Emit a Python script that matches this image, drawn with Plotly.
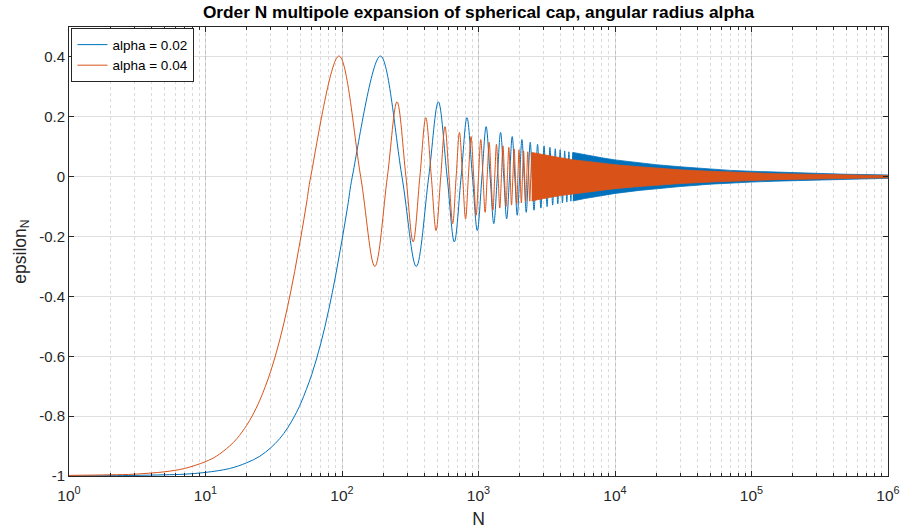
import plotly.graph_objects as go

# ---------------- data ----------------
# alpha = 0.02 : smooth rise, zero crossings, oscillation extrema
blue_rise_N = [1, 2, 3, 5, 7, 10, 15, 20, 25, 30, 35, 40, 45, 50, 60, 70, 80, 90, 100, 110]
blue_rise_eps = [-1.000, -0.999, -0.998, -0.996, -0.994, -0.988, -0.975, -0.956, -0.934, -0.906,
                 -0.875, -0.839, -0.799, -0.756, -0.661, -0.556, -0.444, -0.328, -0.212, -0.099]
blue_zero_N = [119, 275, 432, 589, 746, 903, 1060, 1217, 1374, 1531, 1688, 1845, 2002, 2159, 2316,
               2473, 2630, 2787, 2944, 3101, 3259, 3416, 3573, 3730, 3887, 4044, 4201, 4358, 4515,
               4672, 4829]
blue_ext_N = [191, 350, 508, 665, 823, 980, 1137, 1294, 1451, 1608, 1766, 1923, 2080, 2237, 2394,
              2551, 2708, 2865, 3022, 3180, 3337, 3494, 3651, 3808, 3965, 4122, 4279, 4436, 4593,
              4750, 4908]
blue_ext_eps = [0.403, -0.300, 0.250, -0.218, 0.197, -0.180, 0.167, -0.157, 0.148, -0.141, 0.134,
                -0.129, 0.124, -0.119, 0.115, -0.112, 0.108, -0.105, 0.103, -0.100, 0.098, -0.095,
                0.093, -0.091, 0.090, -0.088, 0.086, -0.085, 0.083, -0.082, 0.081]
# dense oscillation band (envelope half-width) for alpha = 0.02
blue_env_N = [4908, 6000, 8000, 10000, 15000, 20000, 30000, 50000, 70000, 100000, 150000,
              200000, 300000, 500000, 700000, 1000000]
blue_env_amp = [0.081, 0.073, 0.063, 0.056, 0.046, 0.040, 0.033, 0.025, 0.021, 0.018, 0.015,
                0.013, 0.010, 0.008, 0.007, 0.0056]

# alpha = 0.04
orange_rise_N = [1, 2, 3, 4, 5, 7, 10, 12, 15, 17, 20, 22, 25, 30, 35, 40, 45, 50, 55]
orange_rise_eps = [-0.998, -0.996, -0.994, -0.990, -0.986, -0.975, -0.952, -0.934, -0.900, -0.875,
                   -0.831, -0.799, -0.747, -0.651, -0.545, -0.433, -0.317, -0.201, -0.088]
orange_zero_N = [59, 137, 215, 294, 372, 451, 529, 608, 686, 765, 843, 922, 1000, 1079, 1158,
                 1236, 1315, 1393, 1472, 1550, 1629, 1707, 1786, 1864, 1943, 2021, 2100, 2179,
                 2257, 2336, 2414]
orange_ext_N = [95, 174, 253, 332, 411, 489, 568, 647, 725, 804, 882, 961, 1039, 1118, 1197,
                1275, 1354, 1432, 1511, 1589, 1668, 1746, 1825, 1904, 1982, 2061, 2139, 2218,
                2296, 2375, 2453]
orange_ext_eps = [0.403, -0.300, 0.250, -0.218, 0.197, -0.180, 0.167, -0.157, 0.148, -0.141, 0.134,
                  -0.129, 0.124, -0.119, 0.115, -0.112, 0.108, -0.105, 0.103, -0.100, 0.098, -0.095,
                  0.093, -0.091, 0.090, -0.088, 0.086, -0.085, 0.083, -0.082, 0.081]
orange_env_N = [2453, 3000, 4000, 5000, 7000, 10000, 15000, 20000, 30000, 50000, 70000, 100000,
                150000, 200000, 300000, 500000, 700000, 1000000]
orange_env_amp = [0.081, 0.073, 0.063, 0.056, 0.048, 0.040, 0.033, 0.028, 0.023, 0.018, 0.015,
                  0.013, 0.010, 0.009, 0.007, 0.0056, 0.0048, 0.0040]

series_names = ["alpha = 0.02", "alpha = 0.04"]
series_colors = ["#0072BD", "#D95319"]

x_tickvals = [1, 10, 100, 1000, 10000, 100000, 1000000]
x_ticktext = ["10<sup>0</sup>", "10<sup>1</sup>", "10<sup>2</sup>", "10<sup>3</sup>",
              "10<sup>4</sup>", "10<sup>5</sup>", "10<sup>6</sup>"]
y_tickvals = [-1, -0.8, -0.6, -0.4, -0.2, 0, 0.2, 0.4]
y_ticktext = ["-1", "-0.8", "-0.6", "-0.4", "-0.2", "0", "0.2", "0.4"]


def build_curve(rise_N, rise_eps, zero_N, ext_N, ext_eps):
    pts = list(zip(rise_N, rise_eps)) + [(n, 0.0) for n in zero_N] + list(zip(ext_N, ext_eps))
    pts.sort(key=lambda p: p[0])
    return [p[0] for p in pts], [p[1] for p in pts]


def build_band(env_N, env_amp):
    xs = list(env_N) + list(reversed(env_N))
    ys = list(env_amp) + [-a for a in reversed(env_amp)]
    return xs, ys


fig = go.Figure()
datasets = [
    (blue_rise_N, blue_rise_eps, blue_zero_N, blue_ext_N, blue_ext_eps, blue_env_N, blue_env_amp),
    (orange_rise_N, orange_rise_eps, orange_zero_N, orange_ext_N, orange_ext_eps, orange_env_N, orange_env_amp),
]
for (rN, rE, zN, eN, eE, envN, envA), name, col in zip(datasets, series_names, series_colors):
    cx, cy = build_curve(rN, rE, zN, eN, eE)
    fig.add_trace(go.Scatter(x=cx, y=cy, mode="lines", name=name,
                             line=dict(color=col, width=1, shape="spline")))
    bx, by = build_band(envN, envA)
    fig.add_trace(go.Scatter(x=bx, y=by, mode="lines", fill="toself", fillcolor=col,
                             line=dict(color=col, width=0.8), showlegend=False, hoverinfo="skip"))

axis_col = "#262626"
grid_col = "rgba(38,38,38,0.15)"
font_family = "Liberation Sans, Arial, Helvetica, sans-serif"

fig.update_layout(
    width=906, height=531,
    margin=dict(l=69, r=18, t=27, b=55),
    paper_bgcolor="white", plot_bgcolor="white",
    font=dict(family=font_family, color=axis_col, size=15),
    title=dict(text="<b>Order N multipole expansion of spherical cap, angular radius alpha</b>",
               x=0.5, xref="paper", xanchor="center", y=1 - 12 / 531, yref="container",
               yanchor="middle", font=dict(size=17.3, color="black")),
    legend=dict(x=0.003, y=0.997, xanchor="left", yanchor="top", bgcolor="white",
                bordercolor=axis_col, borderwidth=1, font=dict(size=13.5, color="black"),
                itemwidth=30, tracegroupgap=0),
    xaxis=dict(type="log", range=[0, 6], tickmode="array", tickvals=x_tickvals, ticktext=x_ticktext,
               ticks="inside", ticklen=5, tickcolor=axis_col, showline=True, linecolor=axis_col,
               linewidth=1, mirror="allticks", showgrid=True, gridcolor=grid_col, gridwidth=1,
               zeroline=False, tickfont=dict(size=15.5), ticklabelstandoff=5, automargin=False,
               minor=dict(dtick="D1", ticks="inside", ticklen=3, tickcolor=axis_col,
                          showgrid=True, gridcolor="rgba(38,38,38,0.17)", griddash="dot"),
               title=dict(text="N", font=dict(size=17.5), standoff=10)),
    yaxis=dict(range=[-1, 0.5], tickmode="array", tickvals=y_tickvals, ticktext=y_ticktext,
               ticks="inside", ticklen=5, tickcolor=axis_col, showline=True, linecolor=axis_col,
               linewidth=1, mirror="allticks", showgrid=True, gridcolor=grid_col, gridwidth=1,
               zeroline=False, tickfont=dict(size=15), automargin=False,
               title=dict(text="epsilon<sub>N</sub>", font=dict(size=17.5), standoff=8)),
)

fig.write_html("out.html")
